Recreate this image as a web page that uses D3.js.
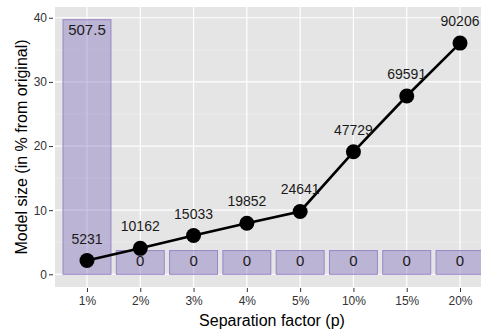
<!DOCTYPE html>
<html><head><meta charset="utf-8">
<script src="https://cdn.jsdelivr.net/npm/d3@7"></script>
<style>body{margin:0;background:#fff}svg{display:block;font-family:"Liberation Sans",Arial,sans-serif}</style>
</head><body>
<svg id="c" width="481" height="331"></svg>
<script>
const categories = ["1%","2%","3%","4%","5%","10%","15%","20%"];
const barValues = [39.7, 3.7, 3.7, 3.7, 3.7, 3.7, 3.7, 3.7];
const barLabels = ["507.5","0","0","0","0","0","0","0"];
const lineValues = [2.15, 4.05, 6.05, 7.95, 9.8, 19.1, 27.8, 36.05];
const lineLabels = ["5231","10162","15033","19852","24641","47729","69591","90206"];
const yTicks = [0,10,20,30,40];
const yMinor = [5,15,25,35];

const svg = d3.select("#c");
const L = 55, R = 492, T = 7, B = 287;
const step = (R - L) / (categories.length - 1 + 1.2);
const xc = d => L + step * (0.6 + categories.indexOf(d));
const y = d3.scaleLinear().domain([-1.98, 41.68]).range([B, T]);

svg.append("defs").append("clipPath").attr("id","clip").append("rect")
  .attr("x",L).attr("y",T).attr("width",R-L).attr("height",B-T);

const panel = svg.append("g").attr("clip-path","url(#clip)");
panel.append("rect").attr("x",L).attr("y",T).attr("width",R-L).attr("height",B-T).attr("fill","#e5e5e5");
panel.selectAll(".ymin").data(yMinor).join("line")
  .attr("x1",L).attr("x2",R).attr("y1",d=>y(d)).attr("y2",d=>y(d))
  .attr("stroke","#f2f2f2").attr("stroke-width",0.6);
panel.selectAll(".ymaj").data(yTicks).join("line")
  .attr("x1",L).attr("x2",R).attr("y1",d=>y(d)).attr("y2",d=>y(d))
  .attr("stroke","#fff").attr("stroke-width",1.2);
panel.selectAll(".xmaj").data(categories).join("line")
  .attr("x1",d=>xc(d)).attr("x2",d=>xc(d)).attr("y1",T).attr("y2",B)
  .attr("stroke","#fff").attr("stroke-width",1.2);

const bw = step * 0.9;
panel.selectAll(".bar").data(categories).join("rect")
  .attr("x",d=>xc(d)-bw/2).attr("width",bw)
  .attr("y",(d,i)=>y(barValues[i])).attr("height",(d,i)=>y(0)-y(barValues[i]))
  .attr("fill","#7a63b8").attr("fill-opacity",0.38)
  .attr("stroke","#9a85c8").attr("stroke-width",1);

panel.selectAll(".bl").data(categories).join("text")
  .attr("x",d=>xc(d)).attr("y",(d,i)=>y(barValues[i])+10)
  .attr("text-anchor","middle").attr("dominant-baseline","central")
  .attr("font-size",15).attr("fill","#1a1a1a").text((d,i)=>barLabels[i]);

const line = d3.line().x((d,i)=>xc(categories[i])).y(d=>y(d));
panel.append("path").datum(lineValues).attr("d",line).attr("fill","none")
  .attr("stroke","#000").attr("stroke-width",2.6);
panel.selectAll(".pt").data(lineValues).join("circle")
  .attr("cx",(d,i)=>xc(categories[i])).attr("cy",d=>y(d)).attr("r",7.5).attr("fill","#000");
panel.selectAll(".ll").data(lineValues).join("text")
  .attr("x",(d,i)=>xc(categories[i])).attr("y",d=>y(d)-22)
  .attr("text-anchor","middle").attr("dominant-baseline","central")
  .attr("font-size",14).attr("fill","#1a1a1a").text((d,i)=>lineLabels[i]);

// axes
const yAxis = svg.append("g").attr("transform",`translate(${L},0)`)
  .call(d3.axisLeft(y).tickValues(yTicks).tickSize(4).tickPadding(4));
const xAxis = svg.append("g").attr("transform",`translate(0,${B})`)
  .call(d3.axisBottom(d3.scalePoint().domain(categories).range([xc(categories[0]), xc(categories[categories.length-1])]))
  .tickSize(4).tickPadding(5));
[yAxis,xAxis].forEach(a=>{
  a.select(".domain").remove();
  a.selectAll(".tick line").attr("stroke","#333").attr("stroke-width",1);
  a.selectAll(".tick text").attr("fill","#333").attr("font-size",12).attr("font-family","Liberation Sans, Arial, sans-serif");
});
yAxis.selectAll(".tick line").attr("transform","translate(-2,0)");
xAxis.selectAll(".tick line").attr("transform","translate(0,1)");

svg.append("text").attr("x",272).attr("y",320).attr("text-anchor","middle")
  .attr("dominant-baseline","central").attr("font-size",16).attr("fill","#000")
  .text("Separation factor (p)");
svg.append("text").attr("transform",`translate(21,${(T+B)/2}) rotate(-90)`)
  .attr("text-anchor","middle").attr("dominant-baseline","central")
  .attr("font-size",16).attr("fill","#000").text("Model size (in % from original)");
</script>
</body></html>
